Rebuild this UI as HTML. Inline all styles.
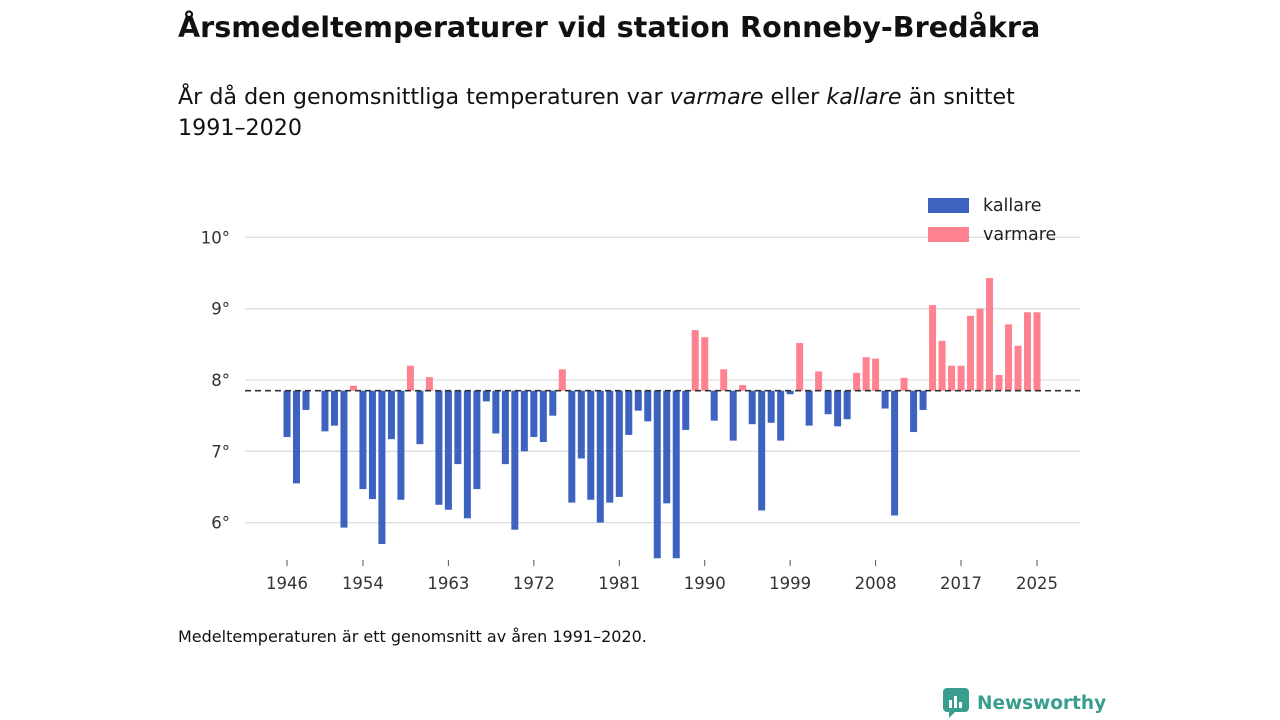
<!DOCTYPE html>
<html><head><meta charset="utf-8"><style>
body{margin:0;width:1280px;height:720px;background:#fff;font-family:"DejaVu Sans","Liberation Sans",sans-serif;color:#111;position:relative;overflow:hidden}
.t{position:absolute;left:178px;top:10px;font-size:28.6px;font-weight:bold;letter-spacing:0px}
.s{position:absolute;left:178px;top:82px;font-size:22.2px;line-height:31px;width:900px}
.f{position:absolute;left:178px;top:627px;font-size:16px}
.logo{position:absolute;left:943px;top:688px;font-size:18.5px;font-weight:bold;color:#3a9e8f;display:flex;align-items:center;gap:8px}
</style></head><body>
<div class="t">Årsmedeltemperaturer vid station Ronneby-Bredåkra</div>
<div class="s">År då den genomsnittliga temperaturen var <i>varmare</i> eller <i>kallare</i> än snittet<br>1991–2020</div>
<svg id="c" width="1280" height="720" style="position:absolute;left:0;top:0"></svg>
<div class="f">Medeltemperaturen är ett genomsnitt av åren 1991–2020.</div>
<div class="logo"><svg width="26" height="30"><rect x="0" y="0" width="26" height="24" rx="4" fill="#3a9e8f"/><path d="M6 24 L6 30 L12 24Z" fill="#3a9e8f"/><rect x="6" y="12" width="3" height="8" fill="#fff"/><rect x="11" y="8" width="3" height="12" fill="#fff"/><rect x="16" y="14" width="3" height="6" fill="#fff"/></svg><span>Newsworthy</span></div>
<script>
const startYear=1946;
const temps=[7.2,6.55,7.58,null,7.28,7.36,5.93,7.92,6.47,6.33,5.7,7.17,6.32,8.2,7.1,8.04,6.25,6.18,6.82,6.06,6.47,7.7,7.25,6.82,5.9,7.0,7.2,7.13,7.5,8.15,6.28,6.9,6.32,6.0,6.28,6.36,7.23,7.57,7.42,5.48,6.27,5.48,7.3,8.7,8.6,7.43,8.15,7.15,7.93,7.38,6.17,7.4,7.15,7.8,8.52,7.36,8.12,7.52,7.35,7.45,8.1,8.32,8.3,7.6,6.1,8.03,7.27,7.58,9.05,8.55,8.2,8.2,8.9,9.0,9.43,8.07,8.78,8.48,8.95,8.95];
const mean=7.85;
const yTicks=[6,7,8,9,10];
const xTicks=[1946,1954,1963,1972,1981,1990,1999,2008,2017,2025];
const NS="http://www.w3.org/2000/svg",svg=document.getElementById('c');
const X=y=>287+(y-1946)*750/79;
const Y=v=>380-(v-8)*71.3;
const yMin=5.5;
function mk(t,a){const e=document.createElementNS(NS,t);for(const k in a)e.setAttribute(k,a[k]);svg.appendChild(e);return e;}
yTicks.forEach(v=>{
 const l=mk('line',{x1:245,x2:1080,y1:Y(v),y2:Y(v),stroke:'#ddd','stroke-width':1.3});
 
 
 const t=mk('text',{x:230,y:Y(v)+6,'text-anchor':'end','font-size':16.5,fill:'#333'});t.textContent=v+'°';
 
 
});
xTicks.forEach(yr=>{
 const t=mk('text',{x:X(yr),y:589,'text-anchor':'middle','font-size':16.5,fill:'#333'});t.textContent=yr;
 
 
 const k=mk('line',{x1:X(yr),x2:X(yr),y1:560,y2:566,stroke:'#555'});
 
 
});
temps.forEach((v,i)=>{
 if(v==null)return;
 const yr=startYear+i,vv=Math.max(v,yMin);
 const y0=Y(mean),y1=Y(vv);
 const r=mk('rect',{x:X(yr)-3.5,width:7,y:Math.min(y0,y1),height:Math.abs(y1-y0),fill:v>=mean?'#ff8291':'#3d62bf'});
 
 
});
const d=mk('line',{x1:245,x2:1080,y1:Y(mean),y2:Y(mean),stroke:'#333','stroke-width':1.6,'stroke-dasharray':'6,4'});


[['kallare','#3d62bf',198],['varmare','#ff8291',227]].forEach(([n,c,y])=>{
 const r=mk('rect',{x:928,y:y,width:41,height:15,fill:c});
 
 
 const t=mk('text',{x:983,y:y+13,'font-size':17.5,fill:'#222'});t.textContent=n;
 
 
});
</script>
</body></html>
